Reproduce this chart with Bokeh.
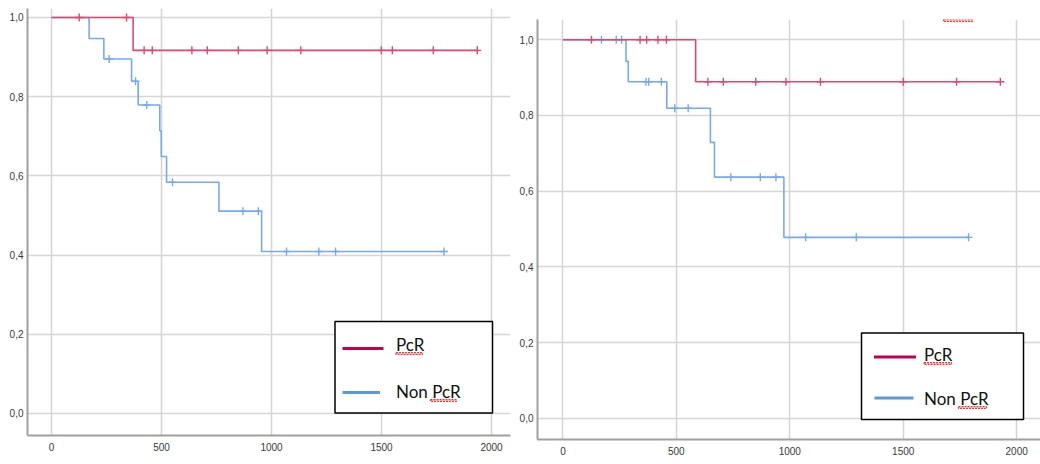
from bokeh.plotting import figure
from bokeh.layouts import row
from bokeh.models import FixedTicker, Range1d, BoxAnnotation, Label
from bokeh.embed import file_html
from bokeh.resources import INLINE

# ---------------- data ----------------
x_ticks = [0, 500, 1000, 1500, 2000]
x_tick_labels = ["0", "500", "1000", "1500", "2000"]
y_ticks = [0.0, 0.2, 0.4, 0.6, 0.8, 1.0]
y_tick_labels = ["0,0", "0,2", "0,4", "0,6", "0,8", "1,0"]
series_names = ["PcR", "Non PcR"]

# Left panel
left_pcr_event_days = [371]
left_pcr_event_surv = [0.917]
left_pcr_censor_days = [126, 341, 421, 458, 638, 708, 849, 980, 1133, 1499, 1549, 1735, 1935]

left_non_event_days = [171, 238, 364, 394, 492, 499, 523, 761, 955]
left_non_event_surv = [0.947, 0.895, 0.839, 0.779, 0.714, 0.649, 0.584, 0.511, 0.409]
left_non_censor_days = [262, 382, 433, 550, 870, 940, 1068, 1215, 1291, 1784]

# Right panel
right_pcr_event_days = [585]
right_pcr_event_surv = [0.889]
right_pcr_censor_days = [126, 340, 369, 419, 456, 639, 707, 850, 983, 1135, 1500, 1735, 1928]

right_non_event_days = [278, 288, 458, 650, 668, 974]
right_non_event_surv = [0.943, 0.889, 0.819, 0.729, 0.637, 0.478]
right_non_censor_days = [170, 235, 259, 366, 378, 434, 493, 552, 740, 870, 939, 1070, 1293, 1788]

# ---------------- styles ----------------
RED = "#e2486f"
BLUE = "#76aaee"
LEG_RED = "#c2004f"
LEG_BLUE = "#5b9bd5"
SPELL_RED = "#ff2a2a"
TICK_FONT = "Liberation Sans"
LEG_FONT = "Lato"


def step_arrays(event_days, event_surv, censor_days):
    last = max(censor_days + event_days)
    xs = [0] + list(event_days) + [last]
    ys = [1.0] + list(event_surv) + [event_surv[-1]]
    return xs, ys


def surv_at(t, event_days, event_surv):
    s = 1.0
    for d, v in zip(event_days, event_surv):
        if d <= t:
            s = v
    return s


def cbox(p, l, r, t, b, **kw):
    p.add_layout(BoxAnnotation(left=l, right=r, top=t, bottom=b,
                               left_units="canvas", right_units="canvas",
                               top_units="canvas", bottom_units="canvas", **kw))


def squiggle(p, x0, x1, y):
    # spell-check underline visible in the picture
    cbox(p, x0, x1, y - 0.8, y + 0.8, fill_alpha=0, line_color=SPELL_RED,
         line_alpha=1.0, line_width=1.2, line_dash="2 1")


def legend_box(p, cfg):
    l, r, t, b = cfg["box"]
    cbox(p, l, r, t, b, fill_color="white", fill_alpha=1.0,
         line_color="black", line_alpha=1.0, line_width=1.5)
    for (x0, x1, y), col in zip(cfg["lines"], [LEG_RED, LEG_BLUE]):
        cbox(p, x0, x1, y - 1.5, y + 1.5, fill_color=col, fill_alpha=1.0, line_color=None)
    for (x, y), name in zip(cfg["labels"], series_names):
        p.add_layout(Label(x=x, y=y, x_units="canvas", y_units="canvas", text=name,
                           text_font=LEG_FONT, text_font_size="17px",
                           text_color="#111111", text_baseline="alphabetic",
                           text_align="left"))
    for sq in cfg["squiggles"]:
        squiggle(p, *sq)


def make_panel(width, height, xr, yr, borders, curves, legend_cfg, extra_squiggles):
    p = figure(width=width, height=height, output_backend="svg", toolbar_location=None,
               title=None,
               x_range=Range1d(*xr), y_range=Range1d(*yr),
               min_border_left=borders[0], min_border_right=borders[1],
               min_border_top=borders[2], min_border_bottom=borders[3])
    p.frame_align = False
    p.outline_line_color = None
    p.background_fill_color = "white"
    p.border_fill_color = "white"

    p.xaxis.ticker = FixedTicker(ticks=x_ticks)
    p.yaxis.ticker = FixedTicker(ticks=y_ticks)
    p.xaxis.major_label_overrides = dict(zip(x_ticks, x_tick_labels))
    p.yaxis.major_label_overrides = dict(zip(y_ticks, y_tick_labels))
    for ax in (p.xaxis, p.yaxis):
        ax.axis_line_color = "#a0a0a0"
        ax.axis_line_width = 2
        ax.major_tick_line_color = None
        ax.minor_tick_line_color = None
        ax.major_tick_out = 0
        ax.major_tick_in = 0
        ax.minor_tick_out = 0
        ax.minor_tick_in = 0
        ax.major_label_text_font = TICK_FONT
        ax.major_label_text_font_size = "10px"
        ax.major_label_text_color = "#3a3a3a"
    p.xaxis.major_label_standoff = 7
    p.yaxis.major_label_standoff = 4

    p.xgrid.grid_line_color = "#d6d6d6"
    p.ygrid.grid_line_color = "#d6d6d6"
    p.xgrid.grid_line_width = 1.6
    p.ygrid.grid_line_width = 1.6

    for ev_d, ev_s, cen_d, col in curves:
        xs, ys = step_arrays(ev_d, ev_s, cen_d)
        p.step(xs, ys, mode="after", line_color=col, line_width=1.6)
        cy = [surv_at(t, ev_d, ev_s) for t in cen_d]
        p.scatter(cen_d, cy, marker="cross", size=8, line_color=col, line_width=1.4)

    legend_box(p, legend_cfg)
    for sq in extra_squiggles:
        squiggle(p, *sq)
    return p


left = make_panel(
    512, 464, (-109, 2086), (-0.0556, 1.0227), (27, 2, 8, 29),
    [(left_non_event_days, left_non_event_surv, left_non_censor_days, BLUE),
     (left_pcr_event_days, left_pcr_event_surv, left_pcr_censor_days, RED)],
    dict(box=(334.5, 492, 321, 412.5),
         lines=[(342, 383, 348), (342, 379.5, 392)],
         labels=[(395.5, 344), (395.5, 390.5)],
         squiggles=[(395.5, 422, 353), (430, 456, 400)]),
    [])

right = make_panel(
    528, 464, (-112, 2105), (-0.0562, 1.0536), (25, 0, 19, 25),
    [(right_non_event_days, right_non_event_surv, right_non_censor_days, BLUE),
     (right_pcr_event_days, right_pcr_event_surv, right_pcr_censor_days, RED)],
    dict(box=(349, 511, 332.5, 419),
         lines=[(361.5, 403.5, 356.5), (362, 401, 397.5)],
         labels=[(411.5, 353.5), (411.5, 397.5)],
         squiggles=[(411.5, 439, 363), (446, 474, 407)]),
    [(431, 460, 20)])

layout = row(left, right)
open("out.html", "w").write(file_html(layout, INLINE))
